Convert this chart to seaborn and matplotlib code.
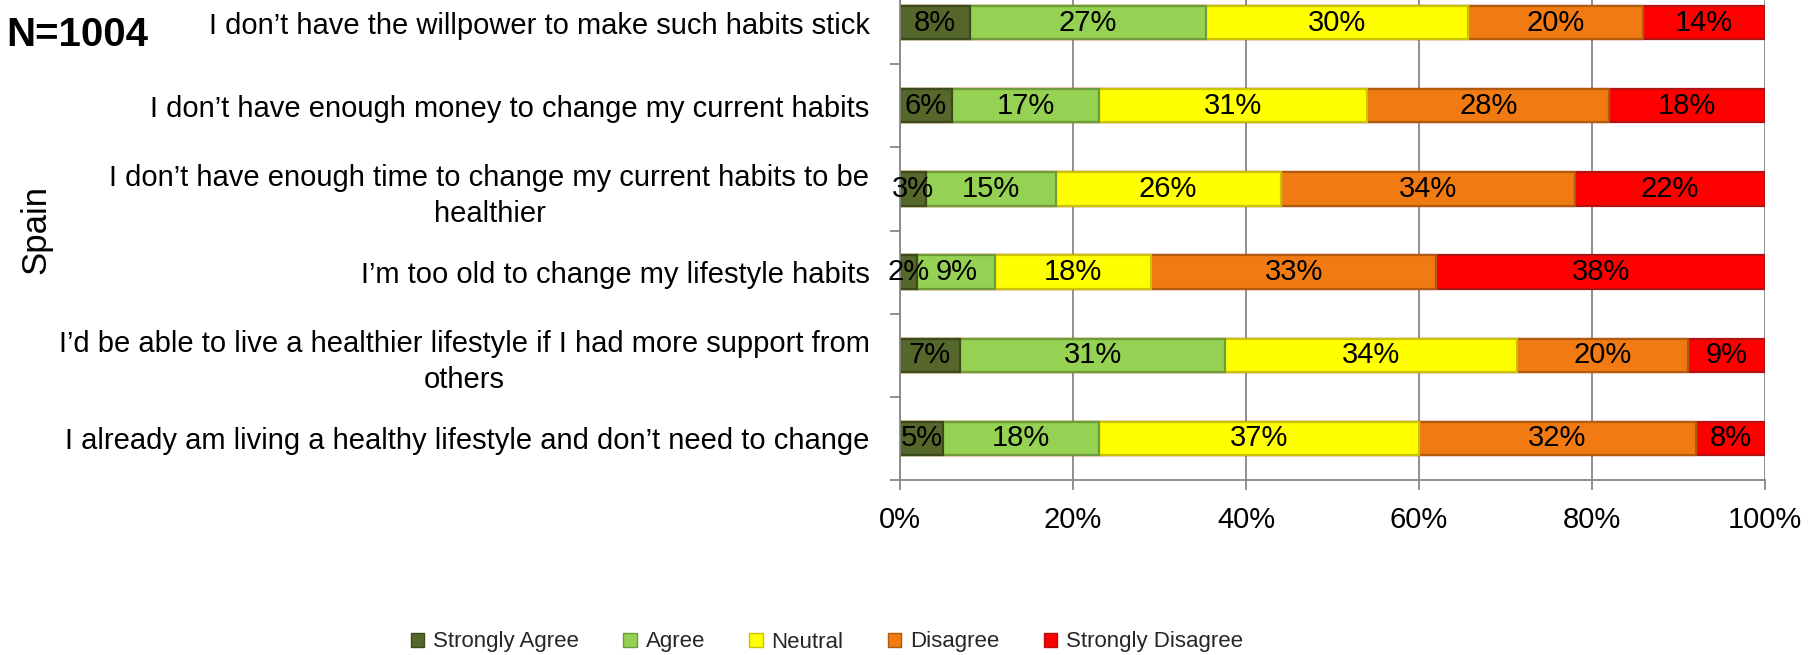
import numpy as np
import pandas as pd
import matplotlib
matplotlib.use("Agg")
import matplotlib.pyplot as plt
from matplotlib.patches import Patch
from matplotlib.ticker import FixedLocator
import seaborn as sns

# Survey statements (top to bottom) and answer scale
statements = [
    "I don\u2019t have the willpower to make such habits stick",
    "I don\u2019t have enough money to change my current habits",
    "I don\u2019t have enough time to change my current habits to be\nhealthier",
    "I\u2019m too old to change my lifestyle habits",
    "I\u2019d be able to live a healthier lifestyle if I had more support from\nothers",
    "I already am living a healthy lifestyle and don\u2019t need to change",
]
responses = ["Strongly Agree", "Agree", "Neutral", "Disagree", "Strongly Disagree"]

# Percent of respondents per answer
strongly_agree = [8, 6, 3, 2, 7, 5]
agree = [27, 17, 15, 9, 31, 18]
neutral = [30, 31, 26, 18, 34, 37]
disagree = [20, 28, 34, 33, 20, 32]
strongly_disagree = [14, 18, 22, 38, 9, 8]

x_ticks = [0, 20, 40, 60, 80, 100]
country = "Spain"
sample_note = "N=1004"

fills = ["#55672B", "#95D152", "#FFFF00", "#F17B12", "#FF0000"]
edges = ["#3C4A1C", "#6E9C3A", "#C9C400", "#B05A0C", "#B31212"]

sns.set_theme(style="white")
plt.rcParams["font.family"] = ["Liberation Sans", "DejaVu Sans"]

df = pd.DataFrame(
    {
        "Strongly Agree": strongly_agree,
        "Agree": agree,
        "Neutral": neutral,
        "Disagree": disagree,
        "Strongly Disagree": strongly_disagree,
    },
    index=statements,
)
# 100% stacked: each row scaled to its own total
shares = df.div(df.sum(axis=1), axis=0) * 100
cum = shares.cumsum(axis=1)
start = cum - shares

fig = plt.figure(figsize=(18.2, 6.55), dpi=100)
ax = fig.add_axes([900 / 1820, 1 - 480 / 655, 865 / 1820, 499 / 655])

# Draw cumulative totals from the right-most segment inward so each
# shorter bar sits on top of the longer one -> stacked appearance
for resp, fc, ec in reversed(list(zip(responses, fills, edges))):
    sns.barplot(
        x=cum[resp].values,
        y=statements,
        orient="h",
        color=fc,
        edgecolor=ec,
        linewidth=1.6,
        width=0.40,
        saturation=1,
        ax=ax,
    )

# Value labels centred in each segment
for i, stmt in enumerate(statements):
    for resp in responses:
        xc = start.loc[stmt, resp] + shares.loc[stmt, resp] / 2
        ax.text(xc, i, f"{df.loc[stmt, resp]}%", ha="center", va="center",
                fontsize=21, color="black")

ax.set_xlim(0, 100)
ax.set_ylim(5.5, -0.5)
ax.xaxis.set_major_locator(FixedLocator(x_ticks))
ax.set_xticklabels([f"{t}%" for t in x_ticks])
ax.grid(axis="x", color="#878787", linewidth=1.3)
ax.grid(axis="y", visible=False)
ax.set_axisbelow(True)

for side in ["top", "right"]:
    ax.spines[side].set_visible(False)
for side in ["left", "bottom"]:
    ax.spines[side].set_color("#878787")
    ax.spines[side].set_linewidth(1.3)

ax.tick_params(axis="x", which="major", bottom=True, length=7, width=1.3,
               color="#878787", direction="out", pad=12, labelsize=21, labelcolor="black")
ax.set_yticks(range(len(statements)))
ax.set_yticklabels(statements)
ax.tick_params(axis="y", which="major", left=False, length=0, pad=22,
               labelsize=21, labelcolor="black")
ax.yaxis.set_minor_locator(FixedLocator(np.arange(-0.5, len(statements), 1.0)))
ax.tick_params(axis="y", which="minor", left=True, length=7, width=1.3,
               color="#878787", direction="out")
for lbl in ax.get_yticklabels():
    lbl.set_multialignment("center")
    lbl.set_linespacing(1.35)

ax.set_xlabel("")
ax.set_ylabel(country, fontsize=25, color="black")
ax.yaxis.set_label_coords((52 - 900) / 865, (480 - 229) / 499)

fig.text(6 / 1820, 1 - 35 / 655, sample_note, fontsize=29, fontweight="bold",
         ha="left", va="center", color="black")

handles = [Patch(facecolor=fc, edgecolor=ec, linewidth=1.0) for fc, ec in zip(fills, edges)]
fig.legend(handles, responses, loc="center", bbox_to_anchor=(827 / 1820, 1 - 642 / 655),
           ncol=5, frameon=False, fontsize=16, handlelength=0.6, handleheight=0.6,
           handletextpad=0.4, columnspacing=2.0)

fig.savefig("out.png", dpi=100)
